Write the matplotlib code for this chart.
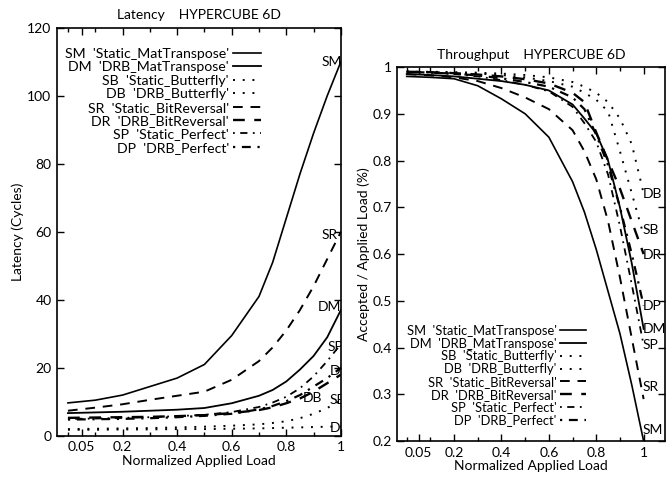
import matplotlib.pyplot as plt
from matplotlib.ticker import MultipleLocator

plt.rcParams['font.family'] = ['Lato', 'DejaVu Sans']

# offered load (fraction of capacity)
load = [0.0, 0.1, 0.2, 0.3, 0.4, 0.5, 0.6, 0.7, 0.75, 0.8, 0.85, 0.9, 0.95, 1.0]

# mean latency in cycles
lat_SM = [9.7, 10.5, 12.0, 14.5, 17.0, 21.0, 29.5, 41.0, 51.0, 64.0, 77.0, 89.0, 100.0, 110.0]
lat_DM = [6.7, 6.9, 7.1, 7.4, 7.7, 8.2, 9.6, 11.8, 13.5, 16.0, 19.5, 23.5, 29.0, 37.0]
lat_SB = [2.0, 2.1, 2.2, 2.3, 2.5, 2.7, 3.0, 3.4, 3.8, 4.3, 5.2, 6.5, 8.2, 10.5]
lat_DB = [1.8, 1.8, 1.9, 1.9, 2.0, 2.0, 2.1, 2.2, 2.3, 2.4, 2.5, 2.6, 2.7, 2.8]
lat_SR = [7.4, 8.3, 9.3, 10.6, 11.8, 13.0, 16.5, 22.0, 26.0, 31.0, 37.0, 44.0, 52.0, 60.0]
lat_DR = [5.3, 5.4, 5.5, 5.6, 5.8, 6.1, 6.7, 7.6, 8.4, 9.6, 11.0, 13.0, 15.5, 18.0]
lat_SP = [5.0, 5.1, 5.3, 5.5, 5.8, 6.2, 7.0, 8.5, 9.8, 11.5, 14.0, 17.5, 22.0, 27.0]
lat_DP = [4.8, 4.9, 5.0, 5.2, 5.5, 5.9, 6.5, 7.8, 8.8, 10.2, 12.0, 14.5, 17.0, 20.0]

# accepted / applied load
thr_SM = [0.98, 0.978, 0.975, 0.96, 0.932, 0.90, 0.85, 0.755, 0.69, 0.61, 0.52, 0.43, 0.32, 0.20]
thr_DM = [0.985, 0.983, 0.98, 0.975, 0.97, 0.962, 0.95, 0.92, 0.89, 0.858, 0.80, 0.70, 0.58, 0.44]
thr_SB = [0.99, 0.989, 0.988, 0.986, 0.983, 0.978, 0.97, 0.958, 0.945, 0.93, 0.905, 0.82, 0.73, 0.64]
thr_DB = [0.99, 0.99, 0.989, 0.988, 0.986, 0.983, 0.978, 0.968, 0.958, 0.945, 0.925, 0.89, 0.835, 0.73]
thr_SR = [0.985, 0.982, 0.978, 0.97, 0.955, 0.935, 0.91, 0.865, 0.82, 0.76, 0.67, 0.55, 0.42, 0.29]
thr_DR = [0.99, 0.989, 0.987, 0.984, 0.98, 0.974, 0.965, 0.945, 0.925, 0.86, 0.80, 0.74, 0.67, 0.60]
thr_SP = [0.99, 0.988, 0.985, 0.98, 0.972, 0.962, 0.948, 0.915, 0.88, 0.84, 0.77, 0.66, 0.535, 0.405]
thr_DP = [0.99, 0.988, 0.986, 0.982, 0.976, 0.968, 0.958, 0.935, 0.91, 0.855, 0.79, 0.70, 0.60, 0.49]

names = ["SM  'Static_MatTranspose'", "DM  'DRB_MatTranspose'",
         "SB  'Static_Butterfly'", "DB  'DRB_Butterfly'",
         "SR  'Static_BitReversal'", "DR  'DRB_BitReversal'",
         "SP  'Static_Perfect'", "DP  'DRB_Perfect'"]

latency = [lat_SM, lat_DM, lat_SB, lat_DB, lat_SR, lat_DR, lat_SP, lat_DP]
throughput = [thr_SM, thr_DM, thr_SB, thr_DB, thr_SR, thr_DR, thr_SP, thr_DP]

# line style per curve, same order as names
styles = [('-', 1.2), ('-', 1.3),
          ((0, (1, 4)), 1.4), ((0, (1, 4)), 1.4),
          ((0, (5, 4)), 1.4), ((0, (5, 4)), 1.7),
          ((0, (1, 3, 4, 3)), 1.3), ((0, (1, 3, 4, 3)), 1.6)]

xticks = [0.05, 0.2, 0.4, 0.6, 0.8, 1.0]
xticklabels = ['0.05', '0.2', '0.4', '0.6', '0.8', '1']


def style_axes(ax):
    ax.tick_params(direction='in', top=True, right=True, length=5, width=1,
                   labelsize=10, pad=4)
    ax.tick_params(which='minor', direction='in', top=True, length=3, width=1)
    ax.xaxis.set_minor_locator(MultipleLocator(0.1))
    for s in ax.spines.values():
        s.set_linewidth(1.2)
    ax.set_xticks(xticks)
    ax.set_xticklabels(xticklabels)
    ax.set_xlabel('Normalized Applied Load', fontsize=10, labelpad=1)


fig = plt.figure(figsize=(6.71, 4.79), dpi=100)

# latency panel
ax1 = fig.add_axes([0.085, 0.09, 0.423, 0.852])
for vals, name, (ls, lw) in zip(latency, names, styles):
    ax1.plot(load, vals, color='black', linestyle=ls, linewidth=lw, label=name)
ax1.set_xlim(-0.04, 1.0)
ax1.set_ylim(0, 120)
ax1.set_yticks([0, 20, 40, 60, 80, 100, 120])
style_axes(ax1)
ax1.set_ylabel('Latency (Cycles)', fontsize=10, labelpad=2)
ax1.set_title('Latency    HYPERCUBE 6D', fontsize=10, pad=6)
ax1.legend(loc='upper right', bbox_to_anchor=(0.755, 0.975), frameon=False,
           markerfirst=False, alignment='right', fontsize=10.2,
           labelspacing=0.1, handlelength=2.0, handletextpad=0.3,
           borderpad=0.2)
for txt, x, y in [('SM', 0.93, 110), ('SR', 0.93, 59), ('DM', 0.915, 38),
                  ('SP', 0.95, 26), ('DP', 0.96, 19), ('DB', 0.86, 11),
                  ('SB', 0.96, 10.5), ('DB', 0.96, 2.4)]:
    ax1.text(x, y, txt, fontsize=10, ha='left', va='center', clip_on=True)

# throughput panel
ax2 = fig.add_axes([0.592, 0.079, 0.399, 0.781])
for vals, name, (ls, lw) in zip(throughput, names, styles):
    ax2.plot(load, vals, color='black', linestyle=ls, linewidth=lw, label=name)
ax2.set_xlim(-0.04, 1.09)
ax2.set_ylim(0.2, 1.0)
ax2.set_yticks([0.2, 0.3, 0.4, 0.5, 0.6, 0.7, 0.8, 0.9, 1.0])
ax2.set_yticklabels(['0.2', '0.3', '0.4', '0.5', '0.6', '0.7', '0.8', '0.9', '1'])
style_axes(ax2)
ax2.set_ylabel('Accepted / Applied Load (%)', fontsize=10, labelpad=2)
ax2.set_title('Throughput    HYPERCUBE 6D', fontsize=10, pad=6)
ax2.legend(loc='upper right', bbox_to_anchor=(0.74, 0.335), frameon=False,
           markerfirst=False, alignment='right', fontsize=9.3,
           labelspacing=0.06, handlelength=2.0, handletextpad=0.3,
           borderpad=0.2)
for txt, y in [('DB', 0.728), ('SB', 0.651), ('DR', 0.598), ('DP', 0.49),
               ('DM', 0.44), ('SP', 0.405), ('SR', 0.316), ('SM', 0.224)]:
    ax2.text(0.995, y, txt, fontsize=10, ha='left', va='center')

fig.savefig('out.png', dpi=100)
